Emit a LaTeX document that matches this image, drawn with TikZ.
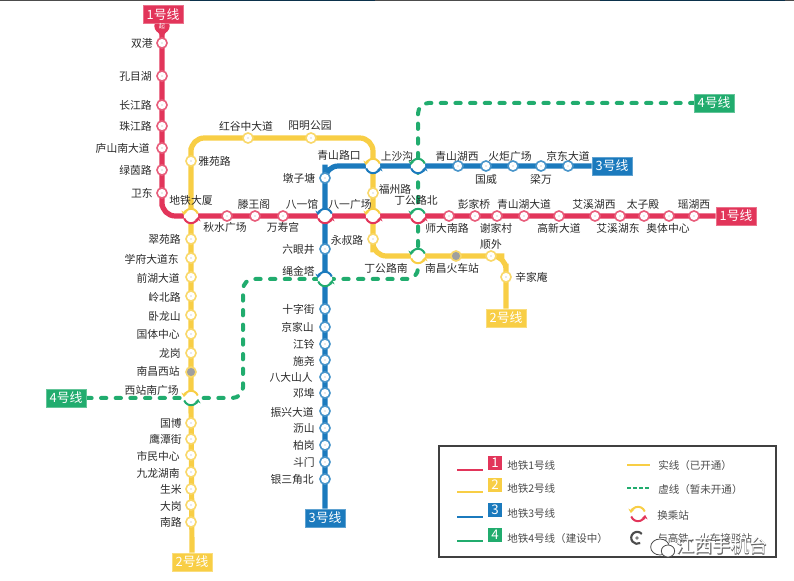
\documentclass[tikz,border=0pt]{standalone}
\usepackage{fontspec}
\setmainfont{Noto Sans CJK SC}
\usetikzlibrary{arrows.meta,shapes.geometric}
\definecolor{cRed}{HTML}{E2355A}
\definecolor{cYel}{HTML}{F8CE45}
\definecolor{cBlu}{HTML}{1B7ABD}
\definecolor{cGrn}{HTML}{21AC6E}
\definecolor{cTxt}{HTML}{2A2A2A}
\pgfdeclarelayer{bg}
\pgfsetlayers{bg,main}
\newcounter{labn}
\tikzset{
  lineR/.style={draw=cRed,line width=3.9pt,rounded corners=10pt},
  lineY/.style={draw=cYel,line width=3.9pt,rounded corners=10pt},
  lineB/.style={draw=cBlu,line width=3.9pt,rounded corners=10pt},
  lineG/.style={draw=cGrn,line width=3pt,rounded corners=8pt,line cap=round,dash pattern=on 4pt off 7pt},
  stn/.style={circle,fill=white,draw=#1!80!white,line width=1.2pt,inner sep=0pt,minimum size=7.6pt,
    path picture={\fill[gray!70] (path picture bounding box.center) circle (0.55pt);}},
  hsr/.style={circle,fill=gray!75,draw=#1!80!white,line width=1.2pt,inner sep=0pt,minimum size=7.6pt},
  xfer/.style={circle,fill=white,inner sep=0pt,outer sep=0pt,minimum size=10.8pt},
  xarc/.style={line width=1.5pt,-{Stealth[length=3pt,width=4.6pt]}},
  lab/.style={inner sep=0pt,text=cTxt,font=\fontsize{8.1pt}{9pt}\selectfont},
  lbox/.style={fill=#1,draw=#1!70!white,line width=.5pt,text=white,inner sep=0pt,minimum width=30pt,minimum height=13.4pt,font=\fontsize{9.6pt}{10pt}\selectfont},
  nbox/.style={fill=#1,text=white,inner sep=0pt,minimum size=10.5pt,font=\fontsize{10pt}{10pt}\selectfont},
  leg/.style={inner sep=0pt,anchor=west,text=black!70,font=\fontsize{7.9pt}{9pt}\selectfont},
  legline/.style={draw=#1,line width=1.5pt},
}
\newcommand{\Lab}[4]{\stepcounter{labn}\node[lab,anchor=#1] (lab\thelabn) at (#2,#3) {#4};}
\newcommand{\Stn}[4]{\node[stn=#4] (#1) at (#2,#3) {};}
\newcommand{\Xfer}[5]{\node[xfer] (#1) at (#2,#3) {};
  \draw[xarc,#4] (#1.20) arc[start angle=20,end angle=172,radius=5.4pt];
  \draw[xarc,#5] (#1.200) arc[start angle=200,end angle=352,radius=5.4pt];}
\begin{document}
\begin{tikzpicture}[x=0.75pt,y=-0.75pt]
\useasboundingbox (0,0) rectangle (794,581);
\fill[black!70] (0,0) rectangle (794,1);
\fill[cBlu!40!black] (190,0) rectangle (375,1);
\fill[cBlu!40!black] (600,0) rectangle (785,1);
% line end boxes
\node[circle,fill=cRed,inner sep=0pt,minimum size=11.5pt] (qi) at (162,26) {};
\node[lbox=cRed] (b1a) at (163,14.5) {1号线};
\node[inner sep=0pt,text=white,font=\fontsize{4.6pt}{5pt}\selectfont] (qit) at (162,26.5) {起};
\node[lbox=cRed] (b1b) at (736,216) {1号线};
\node[lbox=cYel] (b2a) at (192,562) {2号线};
\node[lbox=cYel] (b2b) at (506,318) {2号线};
\node[lbox=cBlu] (b3a) at (325,518) {3号线};
\node[lbox=cBlu] (b3b) at (612,166) {3号线};
\node[lbox=cGrn] (b4a) at (66,398) {4号线};
\node[lbox=cGrn] (b4b) at (714,103) {4号线};
% interchanges
\Xfer{dtds}{191}{216}{cYel}{cRed}
\Xfer{byg}{325}{216}{cBlu}{cRed}
\Xfer{bygc}{373}{216}{cYel}{cRed}
\Xfer{dglb}{418}{216}{cGrn}{cRed}
\Xfer{qslk}{373}{166}{cYel}{cBlu}
\Xfer{ssg}{418}{166}{cGrn}{cBlu}
\Xfer{dgln}{418}{256}{cGrn}{cYel}
\Xfer{sjt}{325}{279}{cBlu}{cGrn}
\Xfer{xznc}{191}{398}{cYel}{cGrn}
% line 1
\Stn{sg}{162}{43}{cRed}\Stn{kmh}{162}{76}{cRed}\Stn{cjl}{162}{105}{cRed}\Stn{zjl}{162}{126}{cRed}
\Stn{lsn}{162}{148}{cRed}\Stn{lyl}{162}{170}{cRed}\Stn{wd}{162}{193}{cRed}
\Stn{qsgc}{227}{216}{cRed}\Stn{twg}{255}{216}{cRed}\Stn{wsg}{283}{216}{cRed}
\Stn{sdnl}{449}{216}{cRed}\Stn{pjq}{475}{216}{cRed}\Stn{xjc}{497}{216}{cRed}\Stn{qshd}{524}{216}{cRed}
\Stn{gxdd}{559}{216}{cRed}\Stn{axhx}{595}{216}{cRed}\Stn{axhd}{620}{216}{cRed}\Stn{tzd}{644}{216}{cRed}
\Stn{atzx}{669}{216}{cRed}\Stn{yhx}{694}{216}{cRed}
% line 2
\Stn{yyl}{191}{161}{cYel}\Stn{hgz}{248}{138}{cYel}\Stn{ymgy}{311}{138}{cYel}\Stn{fzl}{373}{193}{cYel}
\Stn{ysl}{373}{239}{cYel}\Stn{sw}{491}{256}{cYel}\Stn{xja}{506}{277}{cYel}
\node[hsr=cYel] (ncz) at (456,256) {};
\Stn{cyl}{191}{239}{cYel}\Stn{xfd}{191}{258}{cYel}\Stn{qhd}{191}{277}{cYel}\Stn{lbl}{191}{296}{cYel}
\Stn{wls}{191}{315}{cYel}\Stn{gtzx}{191}{334}{cYel}\Stn{lg}{191}{353}{cYel}
\node[hsr=cYel] (ncx) at (191,372) {};
\Stn{gb}{191}{423}{cYel}\Stn{ytj}{191}{439}{cYel}\Stn{smzx}{191}{455}{cYel}\Stn{jlhn}{191}{472}{cYel}
\Stn{sm}{191}{489}{cYel}\Stn{dag}{191}{505}{cYel}\Stn{nl}{191}{522}{cYel}
% line 3
\Stn{ysjb}{325}{479}{cBlu}\Stn{dm}{325}{462}{cBlu}\Stn{bg}{325}{445}{cBlu}\Stn{ls}{325}{428}{cBlu}
\Stn{zxd}{325}{411}{cBlu}\Stn{db}{325}{393}{cBlu}\Stn{bdsr}{325}{377}{cBlu}\Stn{sy}{325}{360}{cBlu}
\Stn{jl}{325}{344}{cBlu}\Stn{jjs}{325}{327}{cBlu}\Stn{szj}{325}{309}{cBlu}\Stn{lyj}{325}{249}{cBlu}
\Stn{dzt}{325}{178}{cBlu}\Stn{qshx}{458}{166}{cBlu}\Stn{gw}{486}{166}{cBlu}\Stn{hjgc}{513}{166}{cBlu}
\Stn{lw}{541}{166}{cBlu}\Stn{jddd}{568}{166}{cBlu}
% line 4 bend points
\coordinate (g1) at (243,398);
\coordinate (g2) at (243,279);
\coordinate (g3) at (418,279);
\coordinate (g4) at (418,103);
% connectors
\begin{pgfonlayer}{bg}
\draw[lineG] (b4a.east) -- (xznc.center) -- (g1) -- (g2) -- (sjt.center) -- (g3) -- (dgln.center) -- (dglb.center) -- (ssg.center) -- (g4) -- (b4b.west);
\draw[lineB] (b3a.north) -- (ysjb.center) -- (sjt.center) -- (byg.center) -- (dzt.center) |- (qslk.center) -- (ssg.center) -- (b3b.west);
\draw[lineY] (b2a.north) -- (xznc.center) -- (dtds.center) -- (yyl.center) |- (hgz.center) -- (ymgy.center) -| (qslk.center) -- (bygc.center) -- (ysl.center) |- (dgln.center) -- (sw.center) -| (xja.center) -- (b2b.north);
\draw[lineR] (qi.center) -- (sg.center) -- (wd.center) |- (dtds.center) -- (b1b.west);
\fill[cRed] (156.5,30) -- (167.5,30) -- (162,38) -- cycle;
\end{pgfonlayer}
% labels line 1
\Lab{east}{153}{43}{双港}\Lab{east}{152}{76}{孔目湖}\Lab{east}{152}{105}{长江路}\Lab{east}{152}{126}{珠江路}
\Lab{east}{150}{148}{庐山南大道}\Lab{east}{152}{170}{绿茵路}\Lab{east}{153}{193}{卫东}
\Lab{center}{191}{200}{地铁大厦}\Lab{center}{225}{227}{秋水广场}\Lab{center}{254}{204}{滕王阁}\Lab{center}{283}{227}{万寿宫}
\Lab{center}{302}{204}{八一馆}\Lab{center}{350}{204}{八一广场}\Lab{center}{416}{200}{丁公路北}
\Lab{center}{447}{228}{师大南路}\Lab{center}{474}{204}{彭家桥}\Lab{center}{496}{228}{谢家村}\Lab{center}{524}{204}{青山湖大道}
\Lab{center}{559}{228}{高新大道}\Lab{center}{594}{204}{艾溪湖西}\Lab{center}{618}{228}{艾溪湖东}\Lab{center}{643}{204}{太子殿}
\Lab{center}{668}{228}{奥体中心}\Lab{center}{694}{204}{瑶湖西}
% labels line 2
\Lab{west}{198}{161}{雅苑路}\Lab{center}{246}{126}{红谷中大道}\Lab{center}{310}{126}{阳明公园}\Lab{center}{339}{155}{青山路口}
\Lab{center}{395}{189}{福州路}\Lab{center}{347}{240}{永叔路}\Lab{center}{386}{268}{丁公路南}\Lab{center}{452}{268}{南昌火车站}
\Lab{center}{491}{244}{顺外}\Lab{west}{515}{277}{辛家庵}
\Lab{east}{181}{239}{翠苑路}\Lab{east}{179}{259}{学府大道东}\Lab{east}{180}{278}{前湖大道}\Lab{east}{181}{297}{岭北路}
\Lab{east}{181}{316}{卧龙山}\Lab{east}{180}{334}{国体中心}\Lab{east}{181}{353}{龙岗}\Lab{east}{180}{371}{南昌西站}
\Lab{east}{179}{390}{西站南广场}\Lab{east}{182}{423}{国博}\Lab{east}{182}{439}{鹰潭街}\Lab{east}{180}{456}{市民中心}
\Lab{east}{180}{473}{九龙湖南}\Lab{east}{182}{489}{生米}\Lab{east}{182}{506}{大岗}\Lab{east}{182}{522}{南路}
% labels line 3
\Lab{center}{299}{178}{墩子塘}\Lab{center}{397}{156}{上沙沟}\Lab{center}{457}{156}{青山湖西}\Lab{center}{486}{179}{国威}
\Lab{center}{510}{156}{火炬广场}\Lab{center}{541}{179}{梁万}\Lab{center}{568}{156}{京东大道}
\Lab{east}{315}{249}{六眼井}\Lab{east}{315}{271}{绳金塔}\Lab{east}{315}{309}{十字街}\Lab{east}{314}{327}{京家山}
\Lab{east}{315}{344}{江铃}\Lab{east}{315}{361}{施尧}\Lab{east}{313}{377}{八大山人}\Lab{east}{315}{393}{邓埠}
\Lab{east}{314}{412}{振兴大道}\Lab{east}{315}{428}{沥山}\Lab{east}{315}{445}{柏岗}\Lab{east}{315}{462}{斗门}\Lab{east}{314}{479}{银三角北}
% legend
\node[draw=black!75,line width=1.5pt,fill=white,inner sep=0pt,minimum width=252.7pt,minimum height=83.2pt] (legbox) at (607.5,501.5) {};
\coordinate (la1) at (457,470);\coordinate (la2) at (483,470);\draw[legline=cRed] (la1) -- (la2);
\coordinate (lb1) at (457,492);\coordinate (lb2) at (483,492);\draw[legline=cYel] (lb1) -- (lb2);
\coordinate (lc1) at (457,517);\coordinate (lc2) at (483,517);\draw[legline=cBlu] (lc1) -- (lc2);
\coordinate (ld1) at (457,541);\coordinate (ld2) at (483,541);\draw[legline=cGrn] (ld1) -- (ld2);
\node[nbox=cRed] (n1) at (495,463) {1};
\node[nbox=cYel] (n2) at (495,485) {2};
\node[nbox=cBlu] (n3) at (495,510) {3};
\node[nbox=cGrn] (n4) at (495,535) {4};
\node[leg] (t1) at (507,465) {地铁1号线};
\node[leg] (t2) at (507,488) {地铁2号线};
\node[leg] (t3) at (507,513) {地铁3号线};
\node[leg] (t4) at (507,538) {地铁4号线（建设中）};
\coordinate (le1) at (627,465);\coordinate (le2) at (650,465);\draw[legline=cYel] (le1) -- (le2);
\coordinate (lf1) at (627,488);\coordinate (lf2) at (649,488);\draw[legline=cGrn,dash pattern=on 3pt off 1.5pt] (lf1) -- (lf2);
\node[leg] (t5) at (658,465) {实线（已开通）};
\node[leg] (t6) at (658,489) {虚线（暂未开通）};
\node[leg] (t7) at (657,515) {换乘站};
\node[leg] (t8) at (657,538) {与高铁、火车接驳站};
\Xfer{ix}{638}{514}{cYel}{cRed}
\node[circle,fill=white,inner sep=0pt,minimum size=9pt] (hs) at (637,538) {};
\draw[line width=1.6pt,black!70] (hs.40) arc[start angle=40,end angle=300,radius=4.5pt];
\fill[gray] (hs.center) circle (1.4pt);
% watermark
\node[ellipse,draw=black!70,fill=white,line width=.6pt,inner sep=0pt,minimum width=14pt,minimum height=12pt] (wm1) at (660,547) {};
\node[ellipse,draw=black!70,fill=white,line width=.6pt,inner sep=0pt,minimum width=10pt,minimum height=9pt] (wm2) at (668,551) {};
\node[inner sep=0pt,text=black!60,font=\fontsize{13.6pt}{14pt}\selectfont\addfontfeature{FakeBold=3}] (wms) at (722,546) {江西手机台};
\node[inner sep=0pt,text=white,font=\fontsize{13.6pt}{14pt}\selectfont] (wm) at (722,546) {江西手机台};
\end{tikzpicture}
\end{document}
